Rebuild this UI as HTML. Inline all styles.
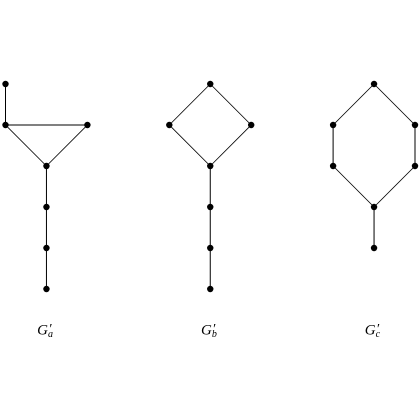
<!DOCTYPE html>
<html>
<head>
<meta charset="utf-8">
<title>Graphs</title>
<style>
html,body{margin:0;padding:0;background:#fff;width:420px;height:420px;overflow:hidden}
svg{display:block}
text{font-family:"Liberation Serif",serif;font-style:italic;fill:#000}
</style>
</head>
<body>
<svg id="chart" width="420" height="420" viewBox="0 0 420 420" xmlns="http://www.w3.org/2000/svg"></svg>
<script>
const graphNames = ['a', 'b', 'c'];
const nodesA = [[0, 5], [0, 4], [2, 4], [1, 3], [1, 2], [1, 1], [1, 0]];
const edgesA = [[0, 1], [1, 2], [1, 3], [2, 3], [3, 4], [4, 5], [5, 6]];
const nodesB = [[5, 5], [4, 4], [6, 4], [5, 3], [5, 2], [5, 1], [5, 0]];
const edgesB = [[0, 1], [0, 2], [1, 3], [2, 3], [3, 4], [4, 5], [5, 6]];
const nodesC = [[9, 5], [8, 4], [10, 4], [8, 3], [10, 3], [9, 2], [9, 1]];
const edgesC = [[0, 1], [0, 2], [1, 3], [2, 4], [3, 5], [4, 5], [5, 6]];
const labelColumns = [1, 5, 9];
const labelRow = -1;

const graphNodes = [nodesA, nodesB, nodesC];
const graphEdges = [edgesA, edgesB, edgesC];
const NS = 'http://www.w3.org/2000/svg';
const svg = document.getElementById('chart');
const xScale = v => 5.5 + v * 40.95;
const yScale = v => 289 - v * 41;

graphNames.forEach((name, g) => {
  const group = document.createElementNS(NS, 'g');
  
  
  svg.appendChild(group);

  graphEdges[g].forEach(edge => {
    const p = graphNodes[g][edge[0]];
    const q = graphNodes[g][edge[1]];
    const diagonal = p[0] !== q[0] && p[1] !== q[1];
    const line = document.createElementNS(NS, 'line');
    
    
    line.setAttribute('x1', xScale(p[0]));
    line.setAttribute('y1', yScale(p[1]));
    line.setAttribute('x2', xScale(q[0]));
    line.setAttribute('y2', yScale(q[1]));
    line.setAttribute('stroke', '#000');
    line.setAttribute('stroke-width', diagonal ? '0.85' : '1');
    group.appendChild(line);
  });

  graphNodes[g].forEach(n => {
    const dot = document.createElementNS(NS, 'circle');
    
    
    dot.setAttribute('cx', xScale(n[0]));
    dot.setAttribute('cy', yScale(n[1]));
    dot.setAttribute('r', '3.2');
    dot.setAttribute('fill', '#000');
    group.appendChild(dot);
  });

  const label = document.createElementNS(NS, 'text');
  
  
  label.setAttribute('x', xScale(labelColumns[g]) - 9.3);
  label.setAttribute('y', yScale(labelRow) + 4.5);
  label.setAttribute('font-size', '15');
  label.appendChild(document.createTextNode('G'));
  const prime = document.createElementNS(NS, 'tspan');
  prime.setAttribute('font-size', '14');
  prime.setAttribute('dy', '-1.5');
  prime.setAttribute('dx', '0.5');
  prime.textContent = '′';
  label.appendChild(prime);
  const sub = document.createElementNS(NS, 'tspan');
  sub.setAttribute('font-size', '10');
  sub.setAttribute('dy', '4');
  sub.setAttribute('dx', '-3.5');
  sub.textContent = name;
  label.appendChild(sub);
  group.appendChild(label);
});
</script>
</body>
</html>
